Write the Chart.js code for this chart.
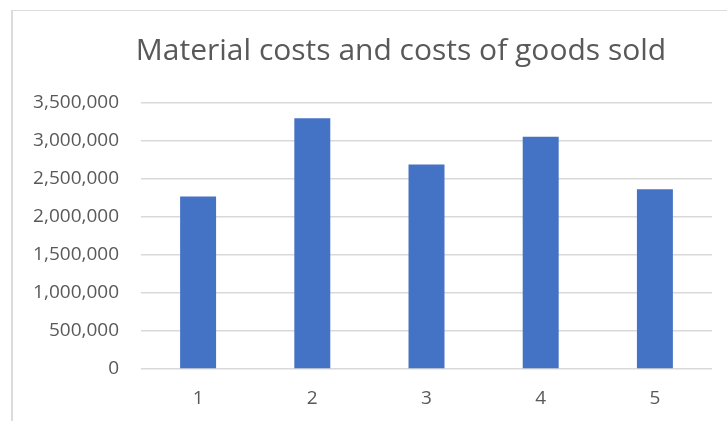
<!DOCTYPE html>
<html>
<head>
<meta charset="utf-8">
<script src="https://cdn.jsdelivr.net/npm/chart.js@4.4.0/dist/chart.umd.min.js"></script>
<style>
  html, body { margin: 0; padding: 0; background: #fff; overflow: hidden; }
  #wrap { position: relative; width: 727px; height: 421px; }
  #frame { position: absolute; left: 11px; top: 10px; width: 800px; height: 500px;
           border-left: 2px solid #dcdcdc; border-top: 1px solid #dcdcdc; }
  canvas { position: absolute; left: 0; top: 0; }
</style>
</head>
<body>
<div id="wrap">
  <div id="frame"></div>
  <canvas id="costChart" width="727" height="421"></canvas>
</div>
<script>
// values
const periods = ['1', '2', '3', '4', '5'];
const costs = [2270000, 3300000, 2690000, 3055000, 2365000];
const yTicks = [0, 500000, 1000000, 1500000, 2000000, 2500000, 3000000, 3500000];
const chartTitle = 'Material costs and costs of goods sold';

const textColor = '#595959';
const gridColor = '#d9d9d9';

// title drawn at the spot it sits in the original (not centred on the canvas)
const titlePlugin = {
    id: 'fixedTitle',
    afterDraw(chart) {
        const ctx = chart.ctx;
        ctx.save();
        ctx.font = '30px "Open Sans"';
        ctx.fillStyle = textColor;
        ctx.textAlign = 'center';
        ctx.textBaseline = 'alphabetic';
        ctx.fillText(chartTitle, 401, 60);
        ctx.restore();
    }
};

const el = document.getElementById('costChart');
new Chart(el, {
    type: 'bar',
    data: {
        labels: periods,
        datasets: [{
            label: chartTitle,
            data: costs,
            backgroundColor: '#4472C4',
            categoryPercentage: 1,
            barPercentage: 0.315
        }]
    },
    options: {
        responsive: false,
        animation: false,
        layout: { padding: { top: 103, right: 15, left: 0, bottom: 0 } },
        plugins: {
            legend: { display: false },
            tooltip: { enabled: false },
            title: { display: false }
        },
        scales: {
            x: {
                grid: { display: false },
                border: { display: false },
                ticks: { color: textColor, font: { family: 'Open Sans', size: 19 }, padding: 10 },
                afterFit(scale) { scale.height = 52; }
            },
            y: {
                min: 0,
                max: 3500000,
                afterBuildTicks(scale) { scale.ticks = yTicks.map(v => ({ value: v })); },
                grid: { color: gridColor, lineWidth: 1.5, drawTicks: false },
                border: { display: false },
                ticks: {
                    color: textColor,
                    font: { family: 'Open Sans', size: 19 },
                    padding: 22,
                    callback: v => v.toLocaleString('en-US')
                },
                afterFit(scale) { scale.width = 141; }
            }
        }
    },
    plugins: [titlePlugin]
});
</script>
</body>
</html>
